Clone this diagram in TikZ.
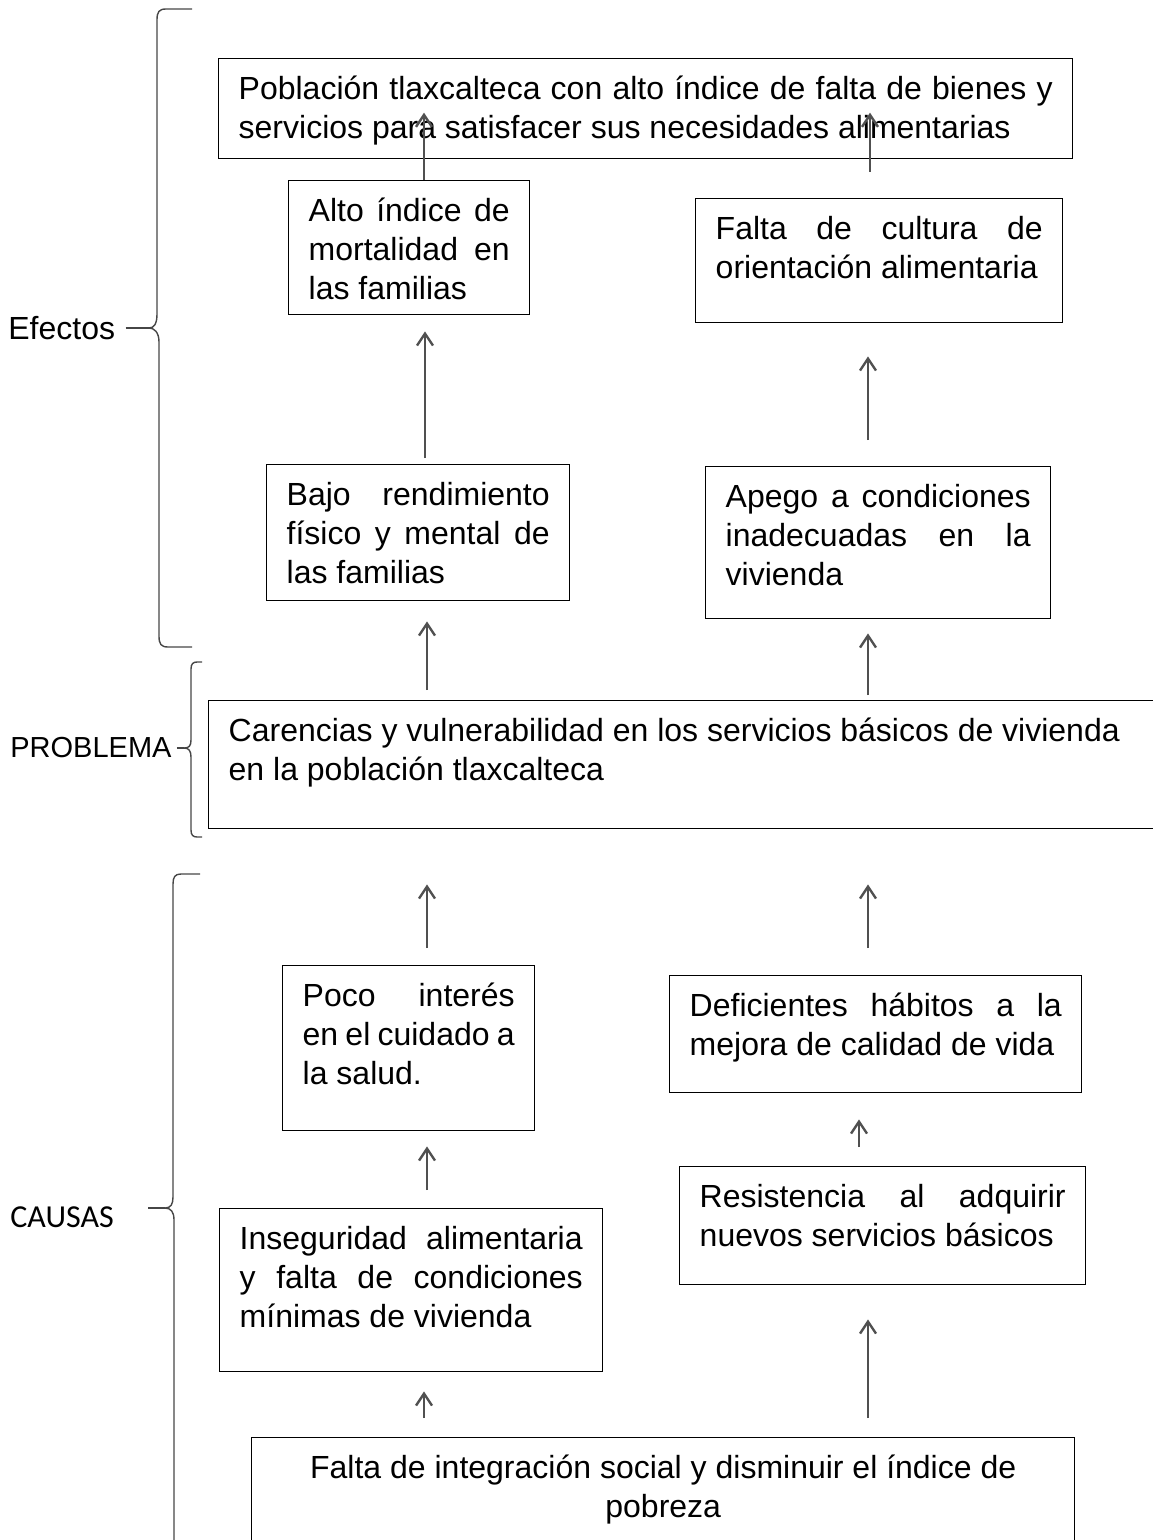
\documentclass[tikz,border=0pt]{standalone}
\usepackage{fontspec}
\setmainfont{Liberation Sans}
\newfontfamily\causasfont{Carlito}
\usepackage{tikz}
\usetikzlibrary{arrows,arrows.meta,positioning}
\usepackage{xcolor}
\definecolor{flechagris}{RGB}{80,80,80}
\definecolor{llavegris}{RGB}{70,70,70}
\tikzstyle{flecha} = [line width=1.2pt, -{Straight Barb[length=6pt,width=8pt]}, color=flechagris]
\tikzstyle{caja} = [rectangle, draw=black, line width=0.7pt, anchor=north west,
    inner xsep=10pt, inner ysep=6.85pt, font=\fontsize{16}{19.5}\selectfont]
\tikzstyle{etiqueta} = [anchor=west, inner sep=0pt, font=\fontsize{16}{19.5}\selectfont]
\tikzstyle{llave} = [line width=0.7pt, color=llavegris]
\newcommand{\textocaja}[3]{\parbox[c][#2][t]{#1}{\strut #3}}
\hyphenpenalty=10000
\exhyphenpenalty=10000

\begin{document}
\begin{tikzpicture}[x=0.5pt, y=-0.5pt]
\useasboundingbox (0,0) rectangle (1152,1540);

% efectos
\node[caja] (pobla) at (218,58) {\textocaja{407pt}{36.3pt}{Población tlaxcalteca con alto índice de falta de bienes y\linebreak servicios para satisfacer sus necesidades alimentarias}};
\node[caja] (alto) at (288,180) {\textocaja{100.5pt}{53.3pt}{Alto índice de\linebreak mortalidad en\linebreak las familias}};
\node[caja] (cultura) at (695,198) {\textocaja{163.5pt}{48.3pt}{Falta de cultura de\linebreak orientación alimentaria}};
\node[caja] (bajo) at (266,464) {\textocaja{131.5pt}{54.3pt}{Bajo rendimiento\linebreak físico y mental de\linebreak las familias}};
\node[caja] (apego) at (705,466) {\textocaja{152.5pt}{62.3pt}{Apego a condiciones\linebreak inadecuadas en la\linebreak vivienda}};

% problema
\node[caja] (carencias) at (208,700) {\textocaja{461pt}{50.3pt}{\raggedright Carencias y vulnerabilidad en los servicios básicos de vivienda\newline en la población tlaxcalteca}};

% causas
\node[caja] (poco) at (282,965) {\textocaja{106pt}{68.8pt}{Poco interés\linebreak en el cuidado a\linebreak la salud.}};
\node[caja] (deficientes) at (669,975) {\textocaja{186pt}{44.8pt}{Deficientes hábitos a la\linebreak mejora de calidad de vida}};
\node[caja] (resistencia) at (679,1166) {\textocaja{183pt}{45.3pt}{Resistencia al adquirir\linebreak nuevos servicios básicos}};
\node[caja] (inseguridad) at (219,1208) {\textocaja{171.5pt}{67.8pt}{Inseguridad alimentaria\linebreak y falta de condiciones\linebreak mínimas de vivienda}};
\node[caja] (integracion) at (251,1437) {\textocaja{391.5pt}{47.8pt}{\centering Falta de integración social y disminuir el índice de\\ pobreza}};

% flechas
\draw[flecha, shorten >=2pt] (424,0 |- alto.north) -- (424,0 |- pobla.center);
\draw[flecha, shorten <=13pt, shorten >=2pt] (870,0 |- cultura.north) -- (870,0 |- pobla.center);
\draw[flecha, shorten <=3pt, shorten >=8pt] (425,0 |- bajo.north) -- (425,0 |- alto.south);
\draw[flecha, shorten <=13pt, shorten >=16.5pt] (868,0 |- apego.north) -- (868,0 |- cultura.south);
\draw[flecha, shorten <=5pt, shorten >=10pt] (427,0 |- carencias.north) -- (427,0 |- bajo.south);
\draw[flecha, shorten <=2.5pt, shorten >=7pt] (868,0 |- carencias.north) -- (868,0 |- apego.south);
\draw[flecha, shorten <=8.5pt, shorten >=27.5pt] (427,0 |- poco.north) -- (427,0 |- carencias.south);
\draw[flecha, shorten <=13.5pt, shorten >=27.5pt] (868,0 |- deficientes.north) -- (868,0 |- carencias.south);
\draw[flecha, shorten <=9pt, shorten >=7.5pt] (427,0 |- inseguridad.north) -- (427,0 |- poco.south);
\draw[flecha, shorten <=9.5pt, shorten >=13pt] (859,0 |- resistencia.north) -- (859,0 |- deficientes.south);
\draw[flecha, shorten <=9.5pt, shorten >=9.5pt] (424,0 |- integracion.north) -- (424,0 |- inseguridad.south);
\draw[flecha, shorten <=9.5pt, shorten >=17pt] (868,0 |- integracion.north) -- (868,0 |- resistencia.south);

% llaves y etiquetas
\draw[llave] (192,9) -- (166,9) .. controls (159,9) and (157,12) .. (157,20) -- (157,314)
    .. controls (157,324) and (154,328) .. (149,328) coordinate (puntaE)
    .. controls (154,328) and (159,332) .. (159,342) -- (159,636)
    .. controls (159,644) and (161,647) .. (168,647) -- (192,647);
\draw[llave] (202,662) -- (197,662) .. controls (193,662) and (191,664) .. (191,669) -- (191,740)
    .. controls (191,746) and (189,748) .. (184,748) coordinate (puntaP)
    .. controls (189,748) and (191,751) .. (191,757) -- (191,830)
    .. controls (191,835) and (193,837) .. (197,837) -- (202,837);
\draw[llave] (200,874) -- (181,874) .. controls (175,874) and (173,877) .. (173,884) -- (173,1197)
    .. controls (173,1204) and (171,1208) .. (165,1208) coordinate (puntaC)
    .. controls (171,1208) and (174,1212) .. (174,1220) -- (174,1560);

\node[etiqueta] (efectos) at (8,328) {Efectos};
\node[etiqueta, font=\fontsize{14.5}{17}\selectfont] (problema) at (10,748) {PROBLEMA};
\node[etiqueta, font=\fontsize{16}{19.5}\causasfont] (causas) at (10,1217) {CAUSAS};
\draw[llave, shorten <=5pt] (efectos) -- (puntaE);
\draw[llave, shorten <=2.5pt] (problema) -- (puntaP);
\draw[llave, shorten <=17pt] (causas.east |- puntaC) -- (puntaC);
\end{tikzpicture}
\end{document}
